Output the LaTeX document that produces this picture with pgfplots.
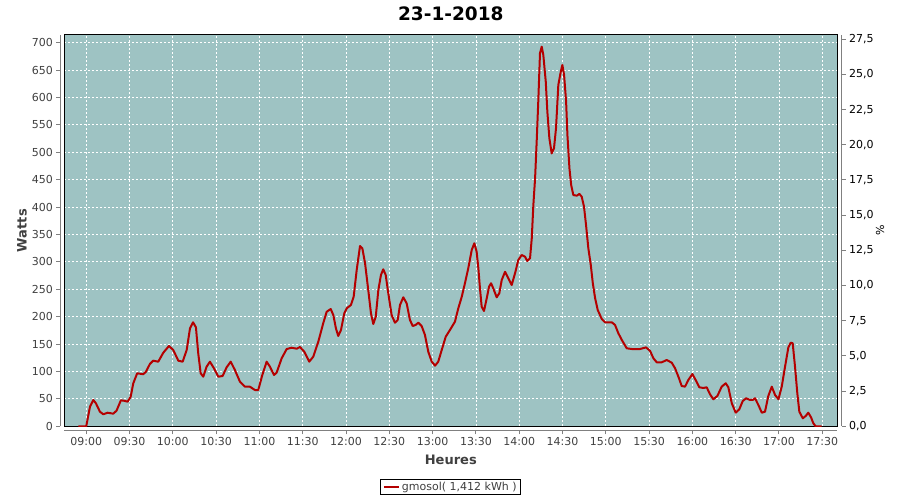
\documentclass[border=0pt]{standalone}
\usepackage{fontspec}
\setmainfont{DejaVu Sans}
\usepackage{pgfplots}
\pgfplotsset{compat=1.18}

\definecolor{plotbg}{RGB}{158,195,195}
\definecolor{curve}{RGB}{180,0,0}
\definecolor{axisgray}{RGB}{128,128,128}
\definecolor{labelgray}{RGB}{64,64,64}

\newcommand\tickfont{\fontsize{11}{13}\selectfont}
\newcommand\labelfont{\bfseries\fontsize{13}{15}\selectfont}

% common frame: 1pt = 1px of the 900x500 picture
\pgfplotsset{
  frame/.style={anchor=south west, scale only axis, width=773pt, height=391.3pt},
}

\begin{document}
\begin{tikzpicture}
\useasboundingbox (0,0) rectangle (900pt,500pt);

% plot area
\begin{axis}[
  frame, at={(64.3pt,73.7pt)},
  xmin=524.8, xmax=1060.4, ymin=0, ymax=714,
  xtick={540,570,...,1050}, ytick={0,50,...,700},
  xticklabels={}, yticklabels={},
  major tick length=0pt,
  grid=major,
  grid style={white, line width=0.8pt, dash pattern=on 2pt off 2pt},
  axis background/.style={fill=plotbg},
  axis line style={black, line width=1pt},
  title={23-1-2018},
  every axis title/.style={at={(0.5,1.0532)}, anchor=center,
    font=\bfseries\fontsize{18.5}{20}\selectfont},
  xlabel={Heures},
  every axis x label/.style={at={(0.5,-0.0861)}, anchor=center,
    font=\labelfont, text=labelgray},
  ylabel={Watts},
  every axis y label/.style={at={(-0.0547,0.5)}, rotate=90, anchor=center,
    font=\labelfont, text=labelgray},
  legend style={at={(0.5,-0.1551)}, anchor=center, draw=black, line width=1pt,
    font=\tickfont, text=labelgray, inner xsep=2pt, inner ysep=1pt},
  legend image code/.code={\draw[#1] (0pt,0pt) -- (15pt,0pt);},
]
\addplot[curve, line width=2pt, line join=round, mark=none] coordinates {
(534.5,0) (540,0) (542.6,35.8) (544.9,48) (546.7,42) (549.5,26.6) (551.8,21.9)
(554.8,24.8) (558.7,23) (561,28.5) (564,47.4) (566.1,46.7) (568.7,45) (570.8,54)
(572.6,78.5) (575.3,96.7) (579.5,95) (581.4,99.6) (584.1,113.7) (586.4,119.7)
(589.9,117.9) (593.4,134.3) (597.3,146.5) (600.3,139.2) (603.8,119.7) (606.8,117.9)
(609.6,139.2) (611.9,178.8) (614,189.8) (616,180.7) (617.6,133.2) (619.3,96.7)
(621.1,90.5) (623.4,108.8) (625.7,117.9) (628.5,105.8) (631.5,90.5) (634.5,91.8)
(637.3,107.7) (640.1,117.9) (643,102.7) (646.5,81.4) (650,72.3) (653.4,72.3)
(656.9,66.2) (659.2,66.2) (662,93.6) (665,117.9) (667.3,108.8) (670.1,93.6)
(671.9,97.8) (675.4,124) (678.9,141) (682.3,143.4) (685.8,141.6) (688.1,144.7)
(691.1,136) (694.5,117.9) (697.3,127) (700.8,154.4) (704.2,188) (706.6,209)
(709.4,214) (711.2,203) (713,178.8) (714.6,164.8) (716.5,175.7) (718.8,206)
(720.5,215.3) (723.4,221.4) (725.3,236.5) (727.4,285.2) (729.7,329) (731.3,324.8)
(733.2,297.4) (735.4,248.7) (737.3,206) (738.9,186.7) (740.6,200) (742.4,248.7)
(744.2,276) (745.8,286.5) (747.5,276) (749.3,242.7) (751.6,203) (753.9,189)
(755.8,194) (757.4,221.4) (759.7,235.4) (762,224.5) (764.3,194) (766.2,183)
(768.2,184.9) (770.1,189) (772.4,183) (774.7,166.6) (777,136) (779.4,117.9)
(781.7,110.6) (783.9,117.9) (786.3,139.2) (789.1,163.5) (792,175.7) (795.5,191)
(797.8,215.3) (800.2,236.5) (802.4,261) (804.7,288.3) (807.1,321.7) (808.9,334)
(810.5,318.6) (811.7,288.3) (812.8,251.8) (814,218.2) (815.6,210.4) (817.5,233.6)
(819.1,254.7) (820.5,261) (822,251.8) (824.4,235.4) (826.2,242.7) (827.9,267)
(830.2,282) (832.5,270) (834.8,257.8) (837.1,279.2) (839.4,303.5) (841.7,312.6)
(844,309.5) (845.6,301.6) (847.5,306.6) (848.7,343) (849.8,403.8) (851,452.6)
(852.1,519.3) (853.2,592.3) (854.4,680.7) (855.6,692.7) (856.7,677.6) (858.4,628.8)
(859.5,574) (860.9,525.5) (862.5,498) (864.1,507.3) (865.5,543.8) (867.1,622.8)
(868.8,647) (869.9,659.3) (871.1,641) (872.5,592.3) (873.4,531.6) (874.8,470.8)
(876,440.3) (877.5,422) (879.9,420.8) (881.7,424) (883.3,419) (884.9,400.7)
(886.3,367.3) (887.9,324.8) (889.6,294.3) (891,261) (892.6,233.6) (894.4,212.2)
(897.2,195.8) (899.5,189.8) (904.1,189.8) (906.4,184.9) (908.7,169.7) (911.1,157.5)
(914.5,142.3) (918,141) (923.7,141) (927.9,144) (930.7,137.4) (933,124)
(935.3,116.8) (938.8,116.8) (942.2,121) (945.7,116) (948,105.8) (950.3,90.5)
(952.6,73.5) (954.9,72.3) (957.2,84.5) (960,95.4) (962.5,83.2) (964.8,71.2)
(967.6,69.9) (969.9,71.2) (972.2,58.4) (974.5,49.3) (977.3,55.3) (980.3,72.3)
(983.1,78.5) (984.9,71.2) (987.3,42) (990,24.8) (992.5,31) (994.9,46.2)
(997.2,51.1) (1000,48) (1001.8,48) (1003.4,51.1) (1005.7,38.9) (1008.1,24.8)
(1010.3,26.6) (1012.6,55.3) (1015,72.3) (1017.3,57.1) (1019.6,49.3) (1021.9,72.3)
(1024.2,108.8) (1026.5,144.2) (1028.1,152.6) (1029.5,151.5) (1031.1,108.8)
(1032.7,60.2) (1034.1,26.6) (1036.5,14.6) (1038.5,18.8) (1040.3,24.8) (1042.2,16.4)
(1043.8,5.5) (1045.4,0) (1049.6,0)
};
\addlegendentry{gmosol( 1,412 kWh )}
\end{axis}

% time axis, set 4px below the plot area
\begin{axis}[
  frame, at={(64.3pt,69.7pt)},
  xmin=524.8, xmax=1060.4, ymin=0, ymax=1,
  axis x line*=bottom, hide y axis,
  x axis line style={axisgray, line width=1pt, -},
  xtick={540,570,...,1050},
  xticklabels={09:00,09:30,10:00,10:30,11:00,11:30,12:00,12:30,13:00,
    13:30,14:00,14:30,15:00,15:30,16:00,16:30,17:00,17:30},
  tick align=outside, major tick length=4pt,
  xtick style={axisgray, line width=1pt},
  xticklabel style={font=\tickfont, text=labelgray},
]
\end{axis}

% Watts axis, 4px left of the plot area
\begin{axis}[
  frame, at={(60.3pt,73.7pt)},
  xmin=0, xmax=1, ymin=0, ymax=714,
  axis y line*=left, hide x axis,
  y axis line style={axisgray, line width=1pt, -},
  ytick={0,50,...,700},
  tick align=outside, major tick length=4pt,
  ytick style={axisgray, line width=1pt},
  yticklabel style={font=\tickfont, text=labelgray},
  /pgf/number format/assume math mode=true,
]
\end{axis}

% percent axis on the right
\begin{axis}[
  frame, at={(68.7pt,73.7pt)},
  xmin=0, xmax=1, ymin=0, ymax=27.8,
  axis y line*=right, hide x axis,
  y axis line style={axisgray, line width=1pt, -},
  ytick={0,2.5,5,7.5,10,12.5,15,17.5,20,22.5,25,27.5},
  tick align=outside, major tick length=4pt,
  ytick style={axisgray, line width=1pt},
  yticklabel style={font=\tickfont, text=black,
    /pgf/number format/.cd, fixed, fixed zerofill, precision=1, use comma},
  /pgf/number format/assume math mode=true,
  ylabel={\%},
  every axis y label/.style={at={(1.0496,0.5)}, rotate=90, anchor=center,
    font=\tickfont, text=black},
]
\end{axis}
\end{tikzpicture}
\end{document}
